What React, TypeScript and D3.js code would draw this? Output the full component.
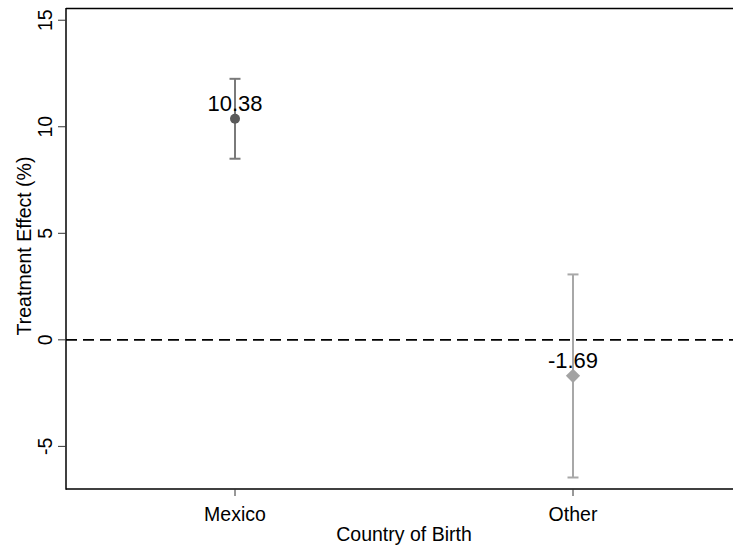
import React from 'react'
import * as d3 from 'd3'

const categories = ['Mexico', 'Other']
const estimates = [10.38, -1.69]
const lower = [8.5, -6.46]
const upper = [12.25, 3.07]
const labels = ['10.38', '-1.69']
const yTicks = [-5, 0, 5, 10, 15]

const W = 733
const H = 550
const font = 'Liberation Sans, Arial, sans-serif'

export default function App() {
  const x = d3.scalePoint<string>().domain(categories).range([66, 742]).padding(0.5)
  const y = d3.scaleLinear().domain([-7, 15.55]).range([489, 8.5])

  const barColor = ['#7a7a7a', '#a8a8a8']
  const markColor = ['#5a5a5a', '#a3a3a3']
  const diamond = d3.symbol().type(d3.symbolDiamond2).size(130)()

  return (
    <div style={{ position: 'absolute', left: 0, top: 0, width: W, height: H, overflow: 'hidden' }}>
      <svg width={W} height={H} style={{ display: 'block', background: '#fff' }} fontFamily={font}>
        {/* axes frame */}
        <line x1={66} x2={W} y1={8.5} y2={8.5} stroke="#000" strokeWidth={1.5} />
        <line x1={66} x2={W} y1={489} y2={489} stroke="#000" strokeWidth={1.5} />
        <line x1={66} x2={66} y1={8} y2={489.7} stroke="#000" strokeWidth={1.5} />

        {/* y ticks */}
        {yTicks.map(t => (
          <g key={t}>
            <line x1={58} x2={66} y1={y(t)} y2={y(t)} stroke="#333" strokeWidth={1} />
            <text
              transform={`translate(52, ${y(t)}) rotate(-90)`}
              textAnchor="middle"
              fontSize={19.5}
              fill="#000"
            >
              {t}
            </text>
          </g>
        ))}
        <text transform={`translate(31, 246) rotate(-90)`} textAnchor="middle" fontSize={19.5} fill="#000">
          Treatment Effect (%)
        </text>

        {/* x ticks */}
        {categories.map(c => (
          <g key={c}>
            <line x1={x(c)!} x2={x(c)!} y1={489} y2={496} stroke="#333" strokeWidth={1} />
            <text x={x(c)!} y={521} textAnchor="middle" fontSize={19.5} fill="#000">
              {c}
            </text>
          </g>
        ))}
        <text x={404} y={541} textAnchor="middle" fontSize={19.5} fill="#000">
          Country of Birth
        </text>

        {/* zero reference */}
        <line x1={66} x2={W} y1={y(0)} y2={y(0)} stroke="#000" strokeWidth={1.6} strokeDasharray="11,6" />

        {/* estimates with CIs */}
        {categories.map((c, i) => {
          const cx = x(c)!
          return (
            <g key={c}>
              <line x1={cx} x2={cx} y1={y(lower[i])} y2={y(upper[i])} stroke={barColor[i]} strokeWidth={2} />
              <line x1={cx - 5.5} x2={cx + 5.5} y1={y(lower[i])} y2={y(lower[i])} stroke={barColor[i]} strokeWidth={2} />
              <line x1={cx - 5.5} x2={cx + 5.5} y1={y(upper[i])} y2={y(upper[i])} stroke={barColor[i]} strokeWidth={2} />
              {i === 0 ? (
                <circle cx={cx} cy={y(estimates[i])} r={5} fill={markColor[i]} />
              ) : (
                <path d={diamond!} transform={`translate(${cx}, ${y(estimates[i])})`} fill={markColor[i]} />
              )}
              <text x={cx} y={y(estimates[i]) - 8} textAnchor="middle" fontSize={22} fill="#000">
                {labels[i]}
              </text>
            </g>
          )
        })}
      </svg>
    </div>
  )
}
